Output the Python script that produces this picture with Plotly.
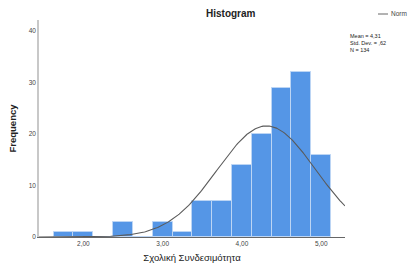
import numpy as np
import plotly.graph_objects as go

# Data
bin_centers = [1.75, 2.00, 2.25, 2.50, 2.75, 3.00, 3.25, 3.50, 3.75, 4.00, 4.25, 4.50, 4.75, 5.00]
frequencies = [1, 1, 0, 3, 0, 3, 1, 7, 7, 14, 20, 29, 32, 16]
bin_width = 0.25
mean_val = 4.31
std_val = 0.62
n_val = 134
x_tick_vals = [2, 3, 4, 5]
x_tick_text = ["2,00", "3,00", "4,00", "5,00"]
y_tick_vals = [0, 10, 20, 30, 40]
x_range = [1.44, 5.30]

# Fitted normal curve (scaled to counts)
xs = np.linspace(x_range[0], x_range[1], 300)
ys = n_val * bin_width / (std_val * np.sqrt(2 * np.pi)) * np.exp(-0.5 * ((xs - mean_val) / std_val) ** 2)

font_family = "Liberation Sans, Arial, sans-serif"

plot_l, plot_r, plot_t, plot_b = 39, 345, 20, 237
def px_to_paper(px, py):
    return (px - plot_l) / (plot_r - plot_l), (plot_b - py) / (plot_b - plot_t)

tx, ty = px_to_paper(231, 14)
sx, sy = px_to_paper(348, 31)
nx, ny = px_to_paper(409, 14)
lx0, ly = px_to_paper(378, 14)
lx1, _ = px_to_paper(388, 14)

fig = go.Figure()
fig.add_trace(go.Bar(
    x=bin_centers, y=frequencies, width=bin_width,
    marker=dict(color="#5596E6", line=dict(color="#BCD5F4", width=1)),
    showlegend=False, hoverinfo="x+y",
))
fig.add_trace(go.Scatter(
    x=xs, y=ys, mode="lines", line=dict(color="#5A5A5A", width=1.1),
    showlegend=False, name="Norm",
))

fig.update_layout(
    width=410, height=266,
    margin=dict(l=plot_l, r=410 - plot_r, t=plot_t, b=266 - plot_b, autoexpand=False),
    paper_bgcolor="white", plot_bgcolor="white",
    font=dict(family=font_family, color="#333333"),
    bargap=0,
    xaxis=dict(
        range=x_range, tickvals=x_tick_vals, ticktext=x_tick_text, automargin=False,
        showgrid=False, zeroline=False, showline=True, linecolor="#666666", linewidth=1,
        ticks="", tickfont=dict(size=6.5, color="#444444"),
        title=dict(text="Σχολική Συνδεσιμότητα", font=dict(size=9.5, color="#222222"), standoff=8),
    ),
    yaxis=dict(
        range=[0, 42.1], tickvals=y_tick_vals, automargin=False,
        showgrid=False, zeroline=False, showline=True, linecolor="#C8C8C8", linewidth=1.5,
        ticks="", tickfont=dict(size=6.5, color="#444444"),
        title=dict(text="<b>Frequency</b>", font=dict(size=9.5, color="#222222"), standoff=10),
    ),
    annotations=[
        dict(text="<b>Histogram</b>", x=tx, y=ty, xref="paper", yref="paper",
             showarrow=False, font=dict(size=10, color="#222222"), xanchor="center", yanchor="middle"),
        dict(text="Mean = 4,31<br>Std. Dev. = ,62<br>N = 134", x=sx, y=sy, xref="paper", yref="paper",
             showarrow=False, font=dict(size=5.5, color="#222222"), xanchor="left", yanchor="top",
             align="left"),
        dict(text="Norm", x=nx, y=ny, xref="paper", yref="paper", showarrow=False,
             font=dict(size=6.5, color="#444444"), xanchor="right", yanchor="middle"),
    ],
    shapes=[
        dict(type="line", xref="paper", yref="paper", x0=lx0, x1=lx1, y0=ly, y1=ly,
             line=dict(color="#666666", width=1)),
    ],
)

fig.write_html(
    "out.html",
    config={"displayModeBar": False},
    post_script="document.body.style.margin='0';document.body.style.overflow='hidden';",
)
